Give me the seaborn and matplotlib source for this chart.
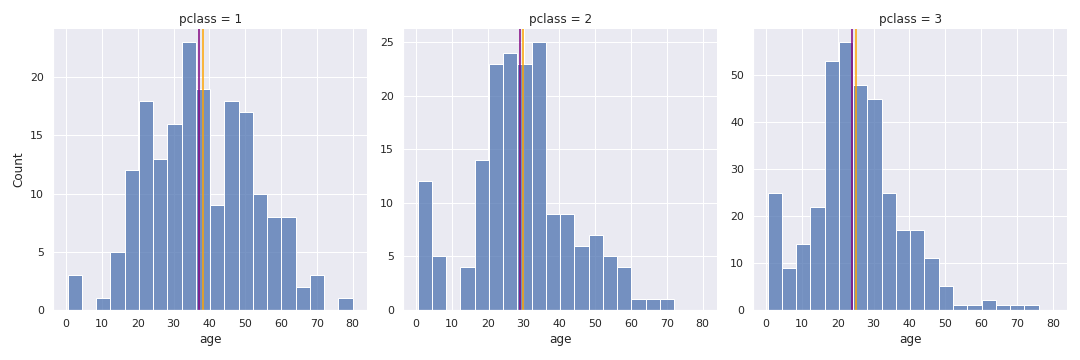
import numpy as np
import pandas as pd
import matplotlib.pyplot as plt
import seaborn as sns

# 每个舱位的年龄直方图计数（20 个公共分箱，从 0.42 到 80）
age_min = 0.42
age_max = 80.0
n_bins = 20
counts_class1 = [3, 0, 1, 5, 12, 18, 13, 16, 23, 19, 9, 18, 17, 10, 8, 8, 2, 3, 0, 1]
counts_class2 = [12, 5, 0, 4, 14, 23, 24, 23, 25, 9, 9, 6, 7, 5, 4, 1, 1, 1, 0, 0]
counts_class3 = [25, 9, 14, 22, 53, 57, 48, 45, 25, 17, 17, 11, 5, 1, 1, 2, 1, 1, 1, 0]
pclasses = [1, 2, 3]
age_median = [37.0, 29.0, 24.0]
age_mean = [38.23, 29.88, 25.14]

edges = np.linspace(age_min, age_max, n_bins + 1)
centers = (edges[:-1] + edges[1:]) / 2

frames = []
for pclass, counts in zip(pclasses, [counts_class1, counts_class2, counts_class3]):
    frames.append(pd.DataFrame({"age": centers, "weight": counts, "pclass": pclass}))
df = pd.concat(frames, ignore_index=True)

sns.set_theme(style="darkgrid")

g = sns.displot(
    data=df,
    x="age",
    weights="weight",
    col="pclass",
    bins=[float(e) for e in edges],
    height=5,
    aspect=1.0,
    facet_kws={"sharey": False},
)

for ax, med, mean in zip(g.axes.flat, age_median, age_mean):
    ax.axvline(med, color="purple", linewidth=2, alpha=0.75)
    ax.axvline(mean, color="orange", linewidth=2, alpha=0.75)
    ax.set_xticks(range(0, 81, 10))
    ax.tick_params(labelbottom=True)

g.set_axis_labels("age", "Count")
g.figure.tight_layout()
g.figure.savefig("out.png", dpi=72)
